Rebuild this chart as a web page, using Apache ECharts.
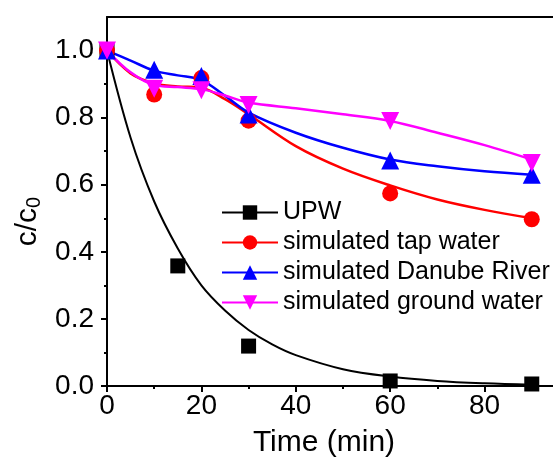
<!DOCTYPE html>
<html>
<head>
<meta charset="utf-8">
<script src="https://cdn.jsdelivr.net/npm/echarts@6/dist/echarts.min.js"></script>
<style>
html,body{margin:0;padding:0;background:#fff;}
#chart{width:553px;height:460px;}
</style>
</head>
<body>
<div id="chart"></div>
<script>
// ---- data ----
const seriesNames = ['UPW', 'simulated tap water', 'simulated Danube River', 'simulated ground water'];
const sampleTime = [0, 10, 20, 30, 60, 90];
const upwTime = [0, 15, 30, 60, 90];
const upwValues = [1.0, 0.358, 0.119, 0.015, 0.006];
const tapValues = [1.0, 0.869, 0.918, 0.791, 0.574, 0.497];
const danubeValues = [1.0, 0.943, 0.924, 0.809, 0.672, 0.63];
const groundValues = [1.0, 0.886, 0.882, 0.838, 0.79, 0.665];

// fitted curves
const upwFitTime = [0, 5, 10, 15, 20, 25, 30, 35, 40, 50, 60, 70, 80, 90];
const upwFit = [1.0, 0.74, 0.55, 0.41, 0.30, 0.225, 0.167, 0.124, 0.092, 0.05, 0.028, 0.015, 0.008, 0.004];
const fitTime = [0, 5, 10, 15, 20, 25, 30, 40, 50, 60, 70, 80, 90];
const tapFit = [1.0, 0.932, 0.902, 0.893, 0.889, 0.855, 0.81, 0.715, 0.648, 0.598, 0.556, 0.525, 0.50];
const danubeFit = [1.0, 0.97, 0.94, 0.926, 0.912, 0.865, 0.815, 0.755, 0.71, 0.675, 0.655, 0.64, 0.63];
const groundFit = [1.0, 0.935, 0.897, 0.891, 0.885, 0.866, 0.845, 0.828, 0.81, 0.79, 0.755, 0.718, 0.675];

const xTicks = [0, 20, 40, 60, 80];
const yTicks = [0.0, 0.2, 0.4, 0.6, 0.8, 1.0];

// ---- chart ----
const colors = ['#000000', '#ff0000', '#0000ff', '#ff00ff'];
const symbols = ['rect', 'circle', 'triangle', 'triangle'];
const rotates = [0, 0, 0, 180];
const sizes = [15, 16, 18, 18];
const FONT = 'Liberation Sans, Arial, sans-serif';

function pairs(xs, ys) { return xs.map((x, i) => [x, ys[i]]); }

const fits = [pairs(upwFitTime, upwFit), pairs(fitTime, tapFit), pairs(fitTime, danubeFit), pairs(fitTime, groundFit)];
const points = [pairs(upwTime, upwValues), pairs(sampleTime, tapValues), pairs(sampleTime, danubeValues), pairs(sampleTime, groundValues)];

const series = [];
for (let i = 0; i < 4; i++) {
  series.push({
    name: seriesNames[i], type: 'line', data: fits[i], smooth: 0.35,
    symbol: symbols[i], symbolRotate: rotates[i], symbolSize: sizes[i], showSymbol: false,
    lineStyle: { color: colors[i], width: i === 0 ? 2 : 2.5 },
    itemStyle: { color: colors[i] }, z: 2 + i
  });
}
for (let i = 0; i < 4; i++) {
  series.push({
    name: seriesNames[i], type: 'scatter', data: points[i],
    symbol: symbols[i], symbolRotate: rotates[i], symbolSize: sizes[i],
    itemStyle: { color: colors[i], opacity: 1 }, z: 10 + i
  });
}

const chart = echarts.init(document.getElementById('chart'), null, { renderer: 'canvas' });
chart.setOption({
  animation: false,
  backgroundColor: '#ffffff',
  grid: { left: 107, top: 17, width: 446, height: 369, containLabel: false, outerBoundsMode: 'none' },
  legend: {
    data: seriesNames, orient: 'vertical', left: 216, top: 195,
    itemWidth: 56, itemHeight: 18, itemGap: 5,
    textStyle: { fontSize: 25, color: '#000', fontFamily: FONT },
    inactiveColor: '#000'
  },
  xAxis: [{
    type: 'value', min: 0, max: 94.5, interval: 20,
    name: 'Time (min)', nameLocation: 'middle', nameGap: 42,
    nameTextStyle: { fontSize: 30, color: '#000', fontFamily: FONT, padding: [0, 12, 0, 0] },
    axisLine: { show: true, onZero: false, lineStyle: { color: '#000', width: 2 } },
    axisTick: { show: true, inside: false, length: 6, lineStyle: { color: '#000', width: 2 }, customValues: xTicks },
    minorTick: { show: true, splitNumber: 2, length: 3, lineStyle: { color: '#000', width: 2 } },
    axisLabel: { fontSize: 28, color: '#000', fontFamily: FONT, margin: 6, customValues: xTicks,
      formatter: v => String(v) },
    splitLine: { show: false }
  }, {
    type: 'value', min: 0, max: 94.5, position: 'top',
    axisLine: { show: true, onZero: false, lineStyle: { color: '#000', width: 2 } },
    axisTick: { show: false }, axisLabel: { show: false }, splitLine: { show: false }
  }],
  yAxis: {
    type: 'value', min: 0, max: 1.1, interval: 0.2,
    name: 'c/c{sub|0}', nameLocation: 'middle', nameGap: 56, nameRotate: 90,
    nameTextStyle: { fontSize: 30, color: '#000', fontFamily: FONT, padding: [0, 40, 0, 0],
      rich: { sub: { fontSize: 20, color: '#000', fontFamily: FONT, verticalAlign: 'bottom', padding: [12, 0, 0, 0] } } },
    axisLine: { show: true, onZero: false, lineStyle: { color: '#000', width: 2 } },
    axisTick: { show: true, inside: false, length: 6, lineStyle: { color: '#000', width: 2 }, customValues: yTicks },
    minorTick: { show: true, splitNumber: 2, length: 3, lineStyle: { color: '#000', width: 2 } },
    axisLabel: { fontSize: 28, color: '#000', fontFamily: FONT, margin: 13, customValues: yTicks,
      formatter: v => v.toFixed(1) },
    splitLine: { show: false }
  },
  series: series
});
</script>
</body>
</html>
